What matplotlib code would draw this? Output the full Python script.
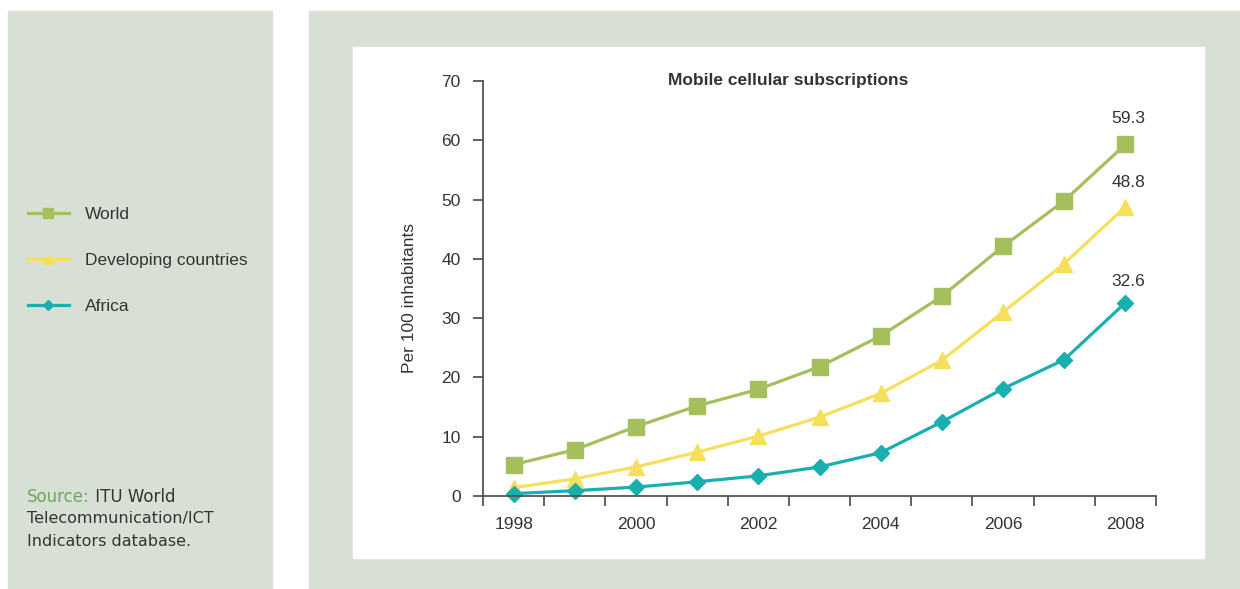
import numpy as np
import matplotlib
matplotlib.use("Agg")
import matplotlib.pyplot as plt
from matplotlib.patches import Rectangle

years = list(range(1998, 2009))
world = [5.3, 7.8, 11.7, 15.2, 18.0, 21.8, 27.0, 33.7, 42.1, 49.8, 59.3]
developing = [1.4, 2.9, 4.9, 7.4, 10.1, 13.3, 17.3, 22.9, 31.0, 39.2, 48.8]
africa = [0.4, 0.9, 1.5, 2.4, 3.4, 4.9, 7.3, 12.5, 18.1, 23.0, 32.6]
end_labels = ["59.3", "48.8", "32.6"]
yticks = [0, 10, 20, 30, 40, 50, 60, 70]

GREEN = '#a4bf5b'
YELLOW = '#f5df5c'
TEAL = '#1aafaf'
PANEL = '#d8e0d5'
TXT = '#333333'
FS = 12.5

plt.rcParams['font.family'] = ['Liberation Sans']

W, H = 1240, 589
fig = plt.figure(figsize=(W / 100, H / 100), dpi=100)
fig.patch.set_facecolor('white')

def px_rect(x0, y0, x1, y1, color):
    # rectangle in pixel coords, origin top-left
    fig.patches.append(Rectangle((x0 / W, 1 - y1 / H), (x1 - x0) / W, (y1 - y0) / H,
                                 transform=fig.transFigure, color=color, zorder=-10))

px_rect(8, 11, 272, 589, PANEL)
px_rect(309, 11, 1240, 589, PANEL)
px_rect(353, 47, 1204, 558, 'white')

ax = fig.add_axes([483 / W, 1 - 496 / H, (1156 - 483) / W, (496 - 81) / H])
ax.set_facecolor('none')

x = np.arange(len(years))
l1, = ax.plot(x, world, color=GREEN, lw=2.3, marker='s', ms=11, mec=GREEN, label='World', clip_on=False)
l2, = ax.plot(x, developing, color=YELLOW, lw=2.3, marker='^', ms=12, mec=YELLOW,
              label='Developing countries', clip_on=False)
l3, = ax.plot(x, africa, color=TEAL, lw=2.3, marker='D', ms=8, mec=TEAL, label='Africa', clip_on=False)

offsets = [13, 12, 10]
for series, lab, off in zip([world, developing, africa], end_labels, offsets):
    ax.annotate(lab, (x[-1], series[-1]), xytext=(2, off), textcoords='offset points',
                ha='center', va='bottom', fontsize=FS, color=TXT)

ax.set_xlim(-0.5, len(years) - 0.5)
ax.set_ylim(0, 70)
ax.set_yticks(yticks)
ax.set_xticks(x[::2])
ax.set_xticklabels([str(y) for y in years[::2]])
ax.set_xticks(np.arange(-0.5, len(years), 1), minor=True)
ax.tick_params(axis='x', which='major', length=0, pad=15, labelsize=FS, labelcolor=TXT)
ax.tick_params(axis='x', which='minor', length=7, width=1.3, color='#555555')
ax.tick_params(axis='y', length=7, width=1.3, color='#555555', labelsize=FS, labelcolor=TXT, pad=9)
for s in ['top', 'right']:
    ax.spines[s].set_visible(False)
for s in ['left', 'bottom']:
    ax.spines[s].set_color('#555555')
    ax.spines[s].set_linewidth(1.3)

fig.text(788 / W, 1 - 81 / H, 'Mobile cellular subscriptions', ha='center', va='center',
         fontsize=FS, fontweight='bold', color=TXT)
fig.text(410 / W, 1 - 298 / H, 'Per 100 inhabitants', ha='center', va='center',
         rotation=90, fontsize=FS, color=TXT)

fig.legend(handles=[l1, l2, l3], loc='upper left', bbox_to_anchor=(12 / W, 1 - 191 / H),
           frameon=False, handlelength=2.36, handletextpad=0.92, labelspacing=1.78,
           markerscale=0.6, fontsize=FS, labelcolor=TXT)

src = fig.text(27 / W, 1 - 497 / H, 'Source:', ha='left', va='center', fontsize=12,
               color='#6fa55f', family='DejaVu Sans')
ax.annotate(' ITU World', xy=(1, 0), xycoords=src, ha='left', va='bottom', fontsize=12,
            color=TXT, family='DejaVu Sans')
fig.text(27 / W, 1 - 519 / H, 'Telecommunication/ICT', ha='left', va='center', fontsize=11.5,
         color=TXT, family='DejaVu Sans')
fig.text(27 / W, 1 - 541 / H, 'Indicators database.', ha='left', va='center', fontsize=11.5,
         color=TXT, family='DejaVu Sans')

fig.savefig('out.png', dpi=100)
